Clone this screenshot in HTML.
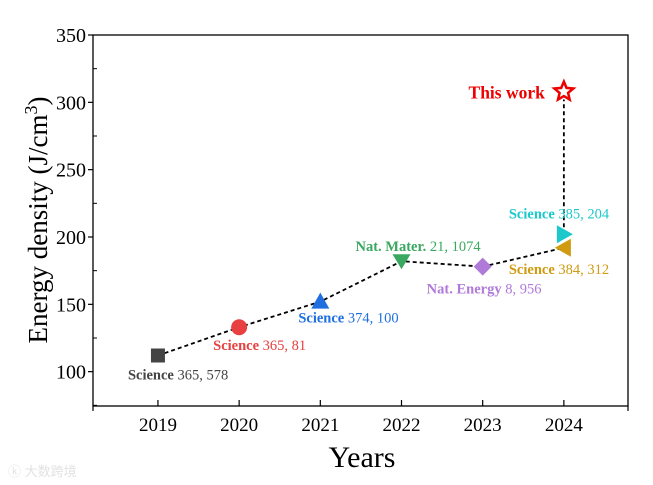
<!DOCTYPE html>
<html><head><meta charset="utf-8"><style>
body{margin:0;background:#fff}
svg{display:block;font-family:"Liberation Serif",serif}
</style></head><body>
<svg id="c" width="653" height="485" viewBox="0 0 653 485" xmlns="http://www.w3.org/2000/svg">
<text x="8" y="476" font-family="Liberation Sans,Noto Sans CJK SC,sans-serif" font-size="13" fill="#e2e2e2">ⓚ 大数跨境</text>
</svg>
<script>
const years=[2019,2020,2021,2022,2023,2024,2024,2024];
const values=[112,133,152,182,178,192,202,308];
const labelsBold=["Science","Science","Science","Nat. Mater.","Nat. Energy","Science","Science","This work"];
const labelsRest=[" 365, 578"," 365, 81"," 374, 100"," 21, 1074"," 8, 956"," 384, 312"," 385, 204",""];
const colors=["#444444","#e84040","#1f6fe0","#3aa860","#b07ad8","#d09b10","#1cc8cc","#ee0000"];
const shapes=["square","circle","tri-up","tri-down","diamond","tri-left","tri-right","star"];
const yTicks=[100,150,200,250,300,350];
const xTicks=[2019,2020,2021,2022,2023,2024];
const lineIdx=[0,1,2,3,4,5];

const L=93,R=628,T=35,B=406;
const x=v=>L+(v-2018.2)/(2024.79-2018.2)*(R-L);
const y=v=>B-(v-74.5)/(350-74.5)*(B-T);
const svg=document.getElementById('c');
const NS='http://www.w3.org/2000/svg';
function mk(t,a,p){const e=document.createElementNS(NS,t);for(const k in a)e.setAttribute(k,a[k]);(p||svg).appendChild(e);return e;}

let fr=mk('rect',{x:L,y:T,width:R-L,height:B-T,fill:'none',stroke:'#000','stroke-width':1.3});


yTicks.forEach(v=>{
  let t=mk('line',{x1:L-5,x2:L,y1:y(v),y2:y(v),stroke:'#000','stroke-width':1.2});
  
  
  let m=mk('line',{x1:L,x2:L+4,y1:y(v-25),y2:y(v-25),stroke:'#000','stroke-width':1});
  
  
  let tx=mk('text',{x:L-7,y:y(v)+7,'text-anchor':'end','font-size':20});
  tx.textContent=v;
  
  
});
xTicks.forEach(v=>{
  let t=mk('line',{x1:x(v),x2:x(v),y1:B-6,y2:B,stroke:'#000','stroke-width':1.2});
  
  
  let tx=mk('text',{x:x(v),y:B+25,'text-anchor':'middle','font-size':19});
  tx.textContent=v;
  
  
});
[L,R].forEach(xx=>{let e=mk('line',{x1:xx,x2:xx,y1:B,y2:B+5,stroke:'#000','stroke-width':1.2});

});
let xt=mk('text',{x:362,y:467,'text-anchor':'middle','font-size':30});xt.textContent='Years';


let yt=mk('text',{transform:'translate(47,220) rotate(-90)','text-anchor':'middle','font-size':27});
yt.innerHTML='Energy density (J/cm<tspan baseline-shift="super" font-size="18">3</tspan>)';



let pts=lineIdx.map(i=>x(years[i])+','+y(values[i])).join(' ');
let pl=mk('polyline',{points:pts,fill:'none',stroke:'#000','stroke-width':1.8,'stroke-dasharray':'4,3'});


let vl=mk('line',{x1:x(years[7]),x2:x(years[7]),y1:y(values[6]),y2:y(values[7])+8,stroke:'#000','stroke-width':1.8,'stroke-dasharray':'4,3'});



const lab=[[-30,24,'start'],[-26,23,'start'],[-22,21,'start'],[-46,-10,'start'],[-56,27,'start'],[-55,26,'start'],[-55,-16,'start'],[-19,7,'end']];
values.forEach((v,i)=>{
  const cx=x(years[i]),cy=y(v),c=colors[i];let e;
  switch(shapes[i]){
    case 'square':e=mk('rect',{x:cx-7,y:cy-7,width:14,height:14,fill:c});break;
    case 'circle':e=mk('circle',{cx,cy,r:8,fill:c});break;
    case 'tri-up':e=mk('polygon',{points:`${cx},${cy-9} ${cx-9},${cy+7} ${cx+9},${cy+7}`,fill:c});break;
    case 'tri-down':e=mk('polygon',{points:`${cx},${cy+8} ${cx-9},${cy-7} ${cx+9},${cy-7}`,fill:c});break;
    case 'diamond':e=mk('polygon',{points:`${cx},${cy-9} ${cx+9},${cy} ${cx},${cy+9} ${cx-9},${cy}`,fill:c});break;
    case 'tri-left':e=mk('polygon',{points:`${cx-9},${cy} ${cx+7},${cy-9} ${cx+7},${cy+9}`,fill:c});break;
    case 'tri-right':e=mk('polygon',{points:`${cx+9},${cy} ${cx-7},${cy-9} ${cx-7},${cy+9}`,fill:c});break;
    case 'star':{let p=[];for(let k=0;k<10;k++){const r=k%2?4.5:10,a=-Math.PI/2+k*Math.PI/5;p.push((cx+r*Math.cos(a)).toFixed(1)+','+(cy+r*Math.sin(a)).toFixed(1));}
      e=mk('polygon',{points:p.join(' '),fill:'#fff',stroke:c,'stroke-width':2.5});break;}
  }
  
  
  const [dx,dy,an]=lab[i];
  let t=mk('text',{x:cx+dx,y:cy+dy,'text-anchor':an,fill:c,'font-size':i==7?17.5:14.5});
  t.innerHTML=`<tspan font-weight="bold">${labelsBold[i]}</tspan>${labelsRest[i]}`;
  
  
});
</script>
</body></html>
